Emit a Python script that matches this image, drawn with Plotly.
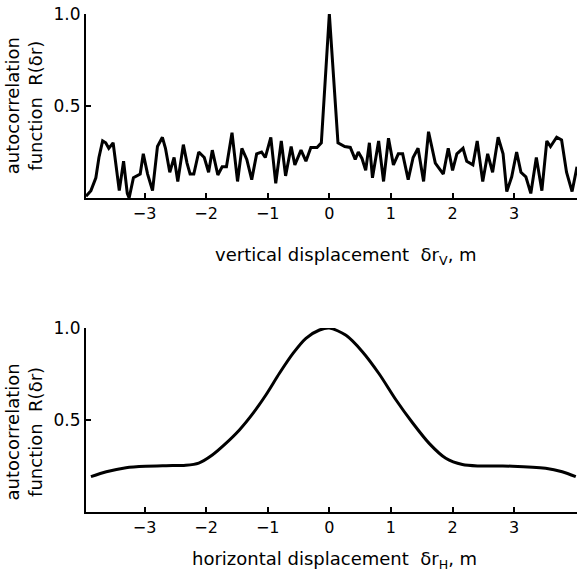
import plotly.graph_objects as go

# Vertical displacement (m) and measured autocorrelation R
vert_dr = [-3.95, -3.87, -3.79, -3.74, -3.68, -3.63, -3.58, -3.51, -3.41, -3.34,
           -3.28, -3.25, -3.18, -3.11, -3.07, -3.02, -2.95, -2.87, -2.79, -2.71,
           -2.66, -2.59, -2.52, -2.46, -2.37, -2.31, -2.26, -2.20, -2.12, -2.03,
           -1.96, -1.90, -1.81, -1.74, -1.67, -1.58, -1.49, -1.42, -1.34, -1.26,
           -1.18, -1.10, -1.04, -0.95, -0.87, -0.78, -0.71, -0.62, -0.56, -0.46,
           -0.38, -0.30, -0.20, -0.13, 0.00, 0.14, 0.25, 0.34, 0.42, 0.47,
           0.53, 0.59, 0.65, 0.70, 0.80, 0.88, 0.96, 1.04, 1.12, 1.19,
           1.28, 1.36, 1.44, 1.53, 1.61, 1.72, 1.85, 1.93, 2.00, 2.07,
           2.17, 2.23, 2.33, 2.40, 2.49, 2.57, 2.65, 2.74, 2.82, 2.88,
           2.96, 3.04, 3.11, 3.19, 3.27, 3.36, 3.45, 3.53, 3.59, 3.69,
           3.77, 3.85, 3.94, 4.02]
vert_r = [0.01, 0.04, 0.11, 0.22, 0.31, 0.30, 0.27, 0.30, 0.04, 0.20,
          0.025, 0.0, 0.11, 0.125, 0.13, 0.24, 0.13, 0.04, 0.28, 0.33,
          0.27, 0.14, 0.22, 0.09, 0.29, 0.19, 0.13, 0.13, 0.25, 0.22,
          0.14, 0.26, 0.125, 0.17, 0.17, 0.355, 0.09, 0.27, 0.21, 0.10,
          0.24, 0.25, 0.22, 0.33, 0.08, 0.31, 0.12, 0.28, 0.18, 0.26,
          0.20, 0.275, 0.275, 0.30, 1.00, 0.30, 0.28, 0.275, 0.21, 0.25,
          0.215, 0.15, 0.30, 0.11, 0.31, 0.09, 0.325, 0.18, 0.24, 0.24,
          0.10, 0.22, 0.27, 0.09, 0.36, 0.19, 0.13, 0.27, 0.15, 0.24,
          0.27, 0.20, 0.18, 0.31, 0.09, 0.24, 0.14, 0.33, 0.24, 0.035,
          0.115, 0.25, 0.14, 0.115, 0.025, 0.22, 0.04, 0.31, 0.28, 0.33,
          0.315, 0.14, 0.035, 0.17]

# Horizontal displacement (m) and autocorrelation R
horiz_dr = [-3.87, -3.62, -3.30, -2.98, -2.65, -2.33, -2.12, -1.90, -1.68, -1.46,
            -1.24, -1.03, -0.81, -0.59, -0.38, -0.16, 0.0, 0.27, 0.54, 0.81,
            1.08, 1.35, 1.62, 1.89, 2.16, 2.43, 2.97, 3.51, 3.78, 4.0]
horiz_r = [0.192, 0.219, 0.241, 0.249, 0.252, 0.254, 0.266, 0.310, 0.373, 0.446,
           0.536, 0.636, 0.754, 0.862, 0.944, 0.989, 1.000, 0.960, 0.870, 0.750,
           0.610, 0.485, 0.373, 0.292, 0.258, 0.250, 0.249, 0.238, 0.219, 0.192]

x_ticks = [-3, -2, -1, 0, 1, 2, 3]
x_ticktext = ["\u22123", "\u22122", "\u22121", "0", "1", "2", "3"]
y_ticks = [0.5, 1.0]
y_ticktext = ["0.5", "1.0"]

FONT = "DejaVu Sans"
INK = "black"

fig = go.Figure()
fig.add_trace(go.Scatter(x=vert_dr, y=vert_r, mode="lines",
                         line=dict(color=INK, width=3), xaxis="x", yaxis="y",
                         showlegend=False, hoverinfo="skip"))
fig.add_trace(go.Scatter(x=horiz_dr, y=horiz_r, mode="lines",
                         line=dict(color=INK, width=3, shape="spline", smoothing=0.8),
                         xaxis="x2", yaxis="y2", showlegend=False, hoverinfo="skip"))

xcommon = dict(range=[-3.95, 4.02], tickvals=x_ticks, ticktext=x_ticktext,
               ticks="inside", ticklen=5, tickwidth=1.5, tickcolor=INK,
               showline=True, linewidth=2, linecolor=INK, showgrid=False,
               zeroline=False, tickfont=dict(family=FONT, size=16, color=INK))
ycommon = dict(range=[0, 1.0], tickvals=y_ticks, ticktext=y_ticktext,
               ticks="inside", ticklen=5, tickwidth=1.5, tickcolor=INK,
               showline=True, linewidth=2, linecolor=INK, showgrid=False,
               zeroline=False, tickfont=dict(family=FONT, size=17, color=INK))

fig.update_layout(
    width=577, height=574,
    margin=dict(l=86, r=0, t=14, b=62),
    paper_bgcolor="white", plot_bgcolor="white",
    xaxis=dict(domain=[0, 1], anchor="y", **xcommon),
    yaxis=dict(domain=[0.6305, 1.0], anchor="x", **ycommon),
    xaxis2=dict(domain=[0, 1], anchor="y2", **xcommon),
    yaxis2=dict(domain=[0.0, 0.3695], anchor="x2", **ycommon),
)

title_font = dict(family=FONT, size=18, color=INK)
ylabel = "autocorrelation<br>function  R(\u03b4r)"
annotations = [
    dict(text="vertical displacement  \u03b4r<sub>V</sub>, m", x=0.53, y=0.515,
         xref="paper", yref="paper", showarrow=False, font=title_font,
         xanchor="center", yanchor="middle"),
    dict(text="horizontal displacement  \u03b4r<sub>H</sub>, m", x=0.507, y=-0.1245,
         xref="paper", yref="paper", showarrow=False, font=title_font,
         xanchor="center", yanchor="bottom"),
    dict(text=ylabel, x=-0.126, y=0.815, xref="paper", yref="paper",
         showarrow=False, font=title_font, textangle=-90,
         xanchor="center", yanchor="middle"),
    dict(text=ylabel, x=-0.126, y=0.16, xref="paper", yref="paper",
         showarrow=False, font=title_font, textangle=-90,
         xanchor="center", yanchor="middle"),
]
fig.update_layout(annotations=annotations)

fig.write_html("out.html")
